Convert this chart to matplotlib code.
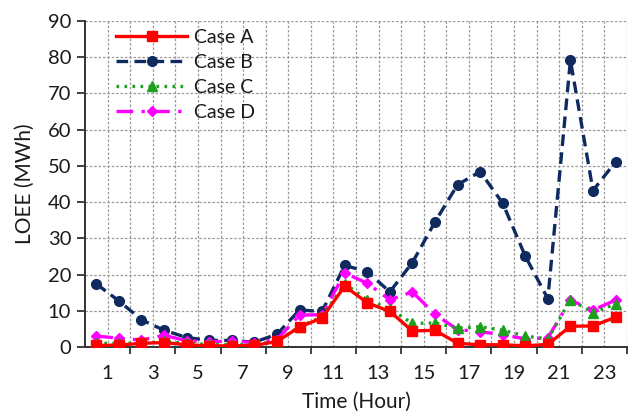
import numpy as np
import matplotlib
matplotlib.use('Agg')
import matplotlib.pyplot as plt

plt.rcParams['font.family'] = ['Lato', 'DejaVu Sans']

# hourly data (hour 1..24, drawn in the middle of each hour slot)
hours = np.arange(1, 25)
case_a = [0.4, 0.5, 1.0, 1.2, 0.6, 0.3, 0.3, 0.4, 1.5, 5.5, 8.0, 16.8,
          12.2, 9.8, 4.4, 4.6, 1.0, 0.6, 0.6, 0.3, 0.7, 5.7, 5.8, 8.2]
case_b = [17.4, 12.7, 7.5, 4.6, 2.6, 1.8, 1.8, 1.3, 3.5, 10.2, 9.8, 22.5,
          20.8, 15.2, 23.3, 34.5, 44.8, 48.4, 39.7, 25.1, 13.3, 79.2, 43.2, 51.1]
case_c = [1.0, 1.0, 1.0, 1.5, 1.0, 0.7, 0.6, 0.6, 1.6, 5.6, 8.3, 17.5,
          13.0, 10.5, 6.5, 6.6, 5.2, 5.6, 4.6, 3.0, 2.2, 13.0, 9.5, 11.8]
case_d = [3.0, 2.4, 1.9, 3.2, 1.7, 1.4, 1.6, 1.2, 2.0, 8.8, 8.9, 20.4,
          17.6, 13.0, 15.2, 9.0, 4.8, 4.2, 3.4, 2.2, 2.5, 12.9, 10.2, 12.9]

fig = plt.figure(figsize=(6.3, 4.13), dpi=100)
ax = fig.add_axes([0.135, 0.16, 0.86, 0.789])

x = hours - 0.5
ax.plot(x, case_a, color='#ff0000', lw=2.4, marker='s', ms=6.5, label='Case A', zorder=5)
ax.plot(x, case_b, color='#0f2a5f', lw=2.4, ls=(0, (3.5, 1.9)), marker='o', ms=7,
        label='Case B', zorder=3)
ax.plot(x, case_c, color='#1ea01e', lw=2.4, ls=(0, (0.8, 1.6)), marker='^', ms=7,
        label='Case C', zorder=4)
ax.plot(x, case_d, color='#ff00ff', lw=2.4, ls=(0, (5, 2.5, 1, 2.5)), marker='D', ms=5.5,
        label='Case D', zorder=3.5)

ax.set_xlim(0, 24)
ax.set_ylim(0, 90)

ax.set_xticks(np.arange(2, 25, 2))
ax.set_xticklabels([])
ax.set_xticks(np.arange(1, 24, 2), minor=True)
ax.set_xticklabels([str(h) for h in range(1, 24, 2)], minor=True)
ax.tick_params(axis='x', which='major', direction='out', length=5, width=1.3, color='#333333')
ax.tick_params(axis='x', which='minor', length=0, pad=13, labelsize=14.5, labelcolor='#1a1a1a')
ax.set_yticks(np.arange(0, 91, 10))
ax.tick_params(axis='y', direction='out', length=6, width=1.3, color='#333333',
               labelsize=14.5, labelcolor='#1a1a1a', pad=4)

# grid: vertical every hour, horizontal every 10
for h in range(1, 25):
    ax.axvline(h, color='#999999', lw=0.9, ls=(0, (2, 1.5)), zorder=0)
for v in range(10, 91, 10):
    ax.axhline(v, color='#999999', lw=0.9, ls=(0, (2, 1.5)), zorder=0)

for s in ['top', 'right']:
    ax.spines[s].set_visible(False)
for s in ['left', 'bottom']:
    ax.spines[s].set_color('#333333')
    ax.spines[s].set_linewidth(1.4)

ax.set_xlabel('Time (Hour)', fontsize=15, labelpad=7, color='#1a1a1a')
ax.set_ylabel('LOEE (MWh)', fontsize=15, labelpad=9, color='#1a1a1a')

ax.legend(loc='upper left', bbox_to_anchor=(0.025, 1.03), frameon=False, fontsize=14,
          handlelength=3.65, labelspacing=0.42, handletextpad=0.35, labelcolor='#1a1a1a')

plt.savefig('out.png', dpi=100)
